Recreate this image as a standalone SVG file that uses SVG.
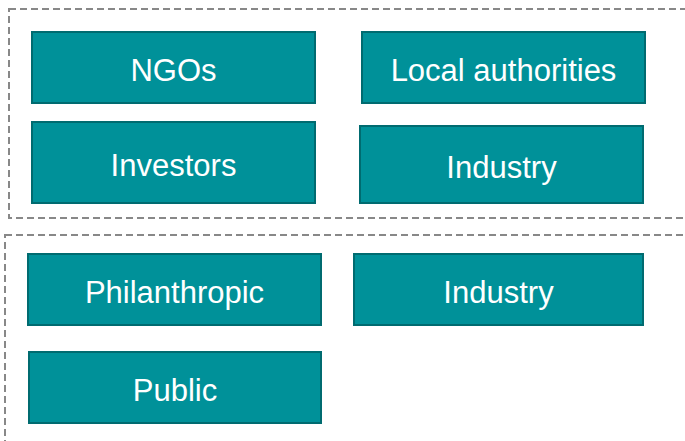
<svg xmlns="http://www.w3.org/2000/svg" width="685" height="441" viewBox="0 0 685 441">
  <style>
    .group { fill: none; stroke: #888888; stroke-width: 2; stroke-dasharray: 7 4; }
    .box { fill: #009199; stroke: #006b70; stroke-width: 2; }
    .label { fill: #ffffff; font-family: "Liberation Sans", Arial, sans-serif; font-size: 31px; text-anchor: middle; }
  </style>
  <rect width="685" height="441" fill="#ffffff"/>
  <!-- grouping frames -->
  <g id="frames">
    <rect class="group" x="9" y="9" width="700" height="209"/>
    <rect class="group" x="5" y="235" width="700" height="220"/>
  </g>
  <g id="connectors"></g>
  <g id="ngos">
    <rect class="box" x="32" y="32" width="283" height="71"/>
    <text class="label" x="173.5" y="81">NGOs</text>
  </g>
  <g id="local-authorities">
    <rect class="box" x="362" y="32" width="283" height="71"/>
    <text class="label" x="503.5" y="81">Local authorities</text>
  </g>
  <g id="investors">
    <rect class="box" x="32" y="122" width="283" height="81"/>
    <text class="label" x="173.5" y="176">Investors</text>
  </g>
  <g id="industry-top">
    <rect class="box" x="360" y="126" width="283" height="77"/>
    <text class="label" x="501.5" y="178">Industry</text>
  </g>
  <g id="philanthropic">
    <rect class="box" x="28" y="254" width="293" height="71"/>
    <text class="label" x="174.5" y="303">Philanthropic</text>
  </g>
  <g id="industry-bottom">
    <rect class="box" x="354" y="254" width="289" height="71"/>
    <text class="label" x="498.5" y="303">Industry</text>
  </g>
  <g id="public">
    <rect class="box" x="29" y="352" width="292" height="71"/>
    <text class="label" x="175" y="401">Public</text>
  </g>
</svg>
